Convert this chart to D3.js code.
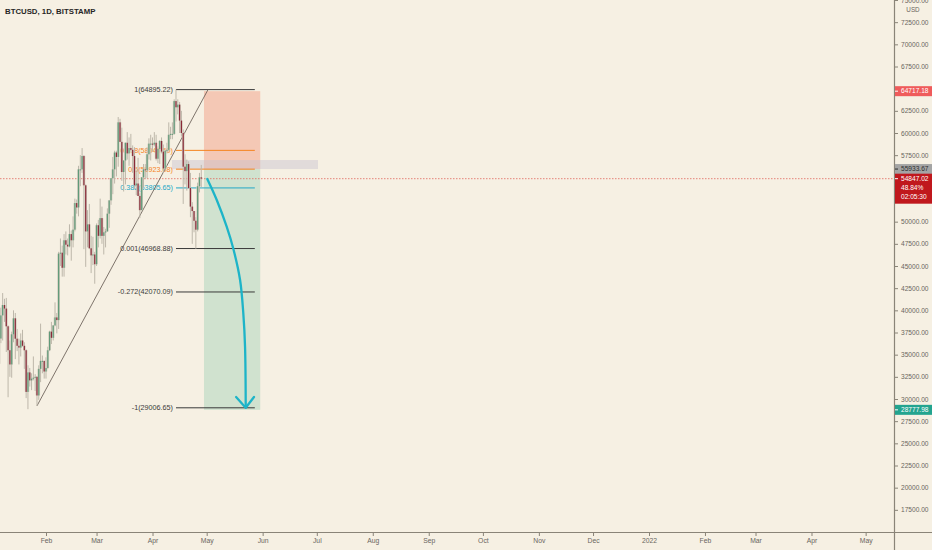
<!DOCTYPE html>
<html><head><meta charset="utf-8">
<script src="https://cdn.jsdelivr.net/npm/d3@7"></script>
<style>html,body{margin:0;padding:0;background:#f6f0e3;} svg{display:block;}</style>
</head><body><svg id="c" width="932" height="550"></svg>
<script>
// ---------- DATA ----------
const title = "BTCUSD, 1D, BITSTAMP";
const firstDay = "2021-01-05"; // consecutive daily candles from here
const opens = [
31970,33970,36820,39430,40600,40200,38200,35500,33900,37300,39100,36800,36000,35800,36600,36000,35500,30800,33000,32100,32300,32400,32500,30400,33400,34300,34300,
33100,33500,35500,37600,36900,38300,39200,38900,46400,46500,44800,47900,47400,47200,48600,47900,49100,52100,51600,55900,55900,57400,54100,48900,49700,47000,46200,46300,
45200,49600,48400,50400,48400,48800,48900,50900,52400,54900,55900,57800,57300,61200,59000,55600,56900,58900,57700,58300,58100,57400,54100,54300,52900,51300,55000,55900,55800,57600,58800,
58800,58700,58900,57100,58200,59100,57900,56000,58000,58100,59800,59900,59900,63600,62900,63200,61400,60000,56200,55700,56500,53800,51700,51200,50100,49100,54000,55000];
const highs = [
34440,36930,40300,41950,41300,41400,38300,36600,37600,40000,39700,37900,36800,37400,37800,36400,35600,33800,33500,32900,34800,32800,32600,33800,38500,34900,34300,
34700,35900,37700,38700,38300,40900,39700,46600,48100,47300,48600,48900,48100,49700,49000,50600,52600,52500,56300,57500,58300,57500,54200,51300,52000,48400,48300,46600,
49800,50200,52600,51700,49400,49200,51500,52400,54900,57300,58000,58000,61800,61600,60600,56900,58900,60100,59500,59900,58600,58400,55800,57200,53200,55000,56500,56500,58400,59400,59800,
59500,60100,59800,58500,59200,59500,58700,58100,58900,61200,60700,61200,63800,64895.22,63800,63500,62500,60400,57600,57000,56800,55500,52200,51200,50500,54400,55500,56400];
const lows = [
29900,33300,36300,36600,38700,35300,30200,32500,32400,36400,34500,35400,33900,34800,35900,33400,30100,28850,31400,31000,32100,30900,29240,29900,31900,32900,32300,
32300,33400,35400,36200,36600,38200,37400,37900,45000,43800,43800,46300,46200,47100,45600,47100,48900,50900,50600,54000,55500,46900,44900,47100,46900,44200,45100,43000,
45000,47100,48100,47500,46300,47100,48900,49300,51900,53100,54300,55100,56200,59000,54600,53400,54200,57000,56300,57900,55500,53700,53000,52900,50400,51300,53900,54800,54900,57000,56900,
57900,58500,56900,56600,56500,57700,55500,55800,57700,57900,59300,59300,59800,61300,62100,60000,59600,52000,54200,53500,53700,50500,47500,48800,46950,48900,53300,53900];
const closes = [
33970,36820,39430,40600,40200,38200,35500,33900,37300,39100,36800,36000,35800,36600,36000,35500,30800,33000,32100,32300,32400,32500,30400,33400,34300,34300,33100,
33500,35500,37600,36900,38300,39200,38900,46400,46500,44800,47900,47400,47200,48600,47900,49100,52100,51600,55900,55900,57400,54100,48900,49700,47000,46200,46300,45200,
49600,48400,50400,48400,48800,48900,50900,52400,54900,55900,57800,57300,61200,59000,55600,56900,58900,57700,58300,58100,57400,54100,54300,52900,51300,55000,55900,55800,57600,58800,58800,
58700,58900,57100,58200,59100,57900,56000,58000,58100,59800,59900,59900,63600,62900,63200,61400,60000,56200,55700,56500,53800,51700,51200,50100,49100,54000,55000,54847.02];

const monthTicks = ["2021-02-01","2021-03-01","2021-04-01","2021-05-01","2021-06-01","2021-07-01","2021-08-01","2021-09-01","2021-10-01","2021-11-01","2021-12-01","2022-01-01","2022-02-01","2022-03-01","2022-04-01","2022-05-01"];
const monthLabels = ["Feb","Mar","Apr","May","Jun","Jul","Aug","Sep","Oct","Nov","Dec","2022","Feb","Mar","Apr","May"];
const priceTicks = [75000,72500,70000,67500,62500,60000,57500,50000,47500,45000,42500,40000,37500,35000,32500,30000,27500,25000,22500,20000,17500];

const fibLevels = ["1","0.618","0.5","0.382","0.001","-0.272","-1"];
const fibPrices = [64895.22,58040.50,55923.08,53805.65,46968.88,42070.09,29006.65];
const fibSpan = ["2021-04-14T00:00Z","2021-05-27T16:00Z"];

const stopPrice = 64717.18, entryPrice = 55933.67, targetPrice = 28777.98;
const positionSpan = ["2021-04-29T12:00Z","2021-05-30T16:00Z"];
const bandSpan = ["2021-04-11T18:00Z","2021-07-01T16:00Z"];
const bandTop = 56950;
const lastPrice = 54847.02, changeText = "48.84%", countdown = "02:05:30";

const trendDates = ["2021-01-27T00:00Z","2021-05-01T18:00Z"];
const trendPrices = [29223, 64895.22];

const arrowDates = ["2021-05-01T08:00Z","2021-05-06T14:00Z","2021-05-12T02:00Z","2021-05-15T19:00Z","2021-05-19T12:00Z","2021-05-21T07:00Z","2021-05-22T06:00Z","2021-05-22T15:00Z"];
const arrowPrices = [54813,52444,49433,46918,43422,39666,35899,29020];
const headDates = ["2021-05-17T07:00Z","2021-05-22T15:00Z","2021-05-27T05:00Z"];
const headPrices = [30226,29020,30226];

// ---------- SETUP ----------
const W = 932, H = 550, plotR = 895, plotB = 532;
const FONT = "'Liberation Sans', Arial, sans-serif";
const svg = d3.select("#c");
svg.append("rect").attr("width",W).attr("height",H).attr("fill","#f6f0e3");

const x = d3.scaleUtc().domain([new Date("2021-02-01T00:00Z"), new Date("2022-01-01T00:00Z")]).range([46,649]);
const y = d3.scaleLinear().domain([15000,75000]).range([plotB,0]);
const D = s => new Date(s);

const day0 = new Date(firstDay+"T00:00Z");
const candles = closes.map((c,i)=>({date:d3.utcDay.offset(day0,i), o:opens[i], h:highs[i], l:lows[i], c}));

svg.append("clipPath").attr("id","clip").append("rect").attr("x",0).attr("y",0).attr("width",plotR).attr("height",plotB);
const plot = svg.append("g").attr("clip-path","url(#clip)");

// position boxes
const px0 = x(D(positionSpan[0])), px1 = x(D(positionSpan[1]));
plot.append("rect").attr("x",px0).attr("width",px1-px0).attr("y",y(stopPrice)).attr("height",y(entryPrice)-y(stopPrice)).attr("fill","#f4c8b5");
plot.append("rect").attr("x",px0).attr("width",px1-px0).attr("y",y(entryPrice)).attr("height",y(targetPrice)-y(entryPrice)).attr("fill","#d0e2cf");
const bx0 = x(D(bandSpan[0])), bx1 = x(D(bandSpan[1]));
plot.append("rect").attr("x",bx0).attr("width",bx1-bx0).attr("y",y(bandTop)).attr("height",y(entryPrice)-y(bandTop)).attr("fill","rgba(200,194,206,0.45)");

// current price dotted line
plot.append("line").attr("x1",0).attr("x2",plotR).attr("y1",y(lastPrice)).attr("y2",y(lastPrice))
  .attr("stroke","#e0665c").attr("stroke-width",0.8).attr("stroke-dasharray","1.5,1.5");

// fib
const fibColor = ["#3a3a3a","#f5841f","#f5841f","#22a7c6","#3a3a3a","#3a3a3a","#3a3a3a"];
const fx0 = x(D(fibSpan[0])), fx1 = x(D(fibSpan[1]));
const fg = plot.append("g");
fibPrices.forEach((p,i)=>{
  fg.append("line").attr("x1",fx0).attr("x2",fx1).attr("y1",y(p)).attr("y2",y(p)).attr("stroke",fibColor[i]).attr("stroke-width",1);
  fg.append("text").attr("x",fx0-3).attr("y",y(p)).attr("dy","0.35em").attr("text-anchor","end")
    .attr("font-family",FONT).attr("font-size",7.2).attr("fill",fibColor[i]).text(fibLevels[i]+"("+p.toFixed(2)+")");
});

// trendline
plot.append("line").attr("x1",x(D(trendDates[0]))).attr("y1",y(trendPrices[0])).attr("x2",x(D(trendDates[1]))).attr("y2",y(trendPrices[1]))
  .attr("stroke","#5e534b").attr("stroke-width",0.8);

// candles
const cg = plot.append("g");
cg.selectAll("line.w").data(candles).join("line").attr("class","w")
  .attr("x1",d=>x(d.date)).attr("x2",d=>x(d.date)).attr("y1",d=>y(d.h)).attr("y2",d=>y(d.l))
  .attr("stroke","#bdb7aa").attr("stroke-width",1);
cg.selectAll("rect.bo").data(candles).join("rect").attr("class","bo")
  .attr("x",d=>x(d.date)-1.3).attr("width",2.6)
  .attr("y",d=>y(Math.max(d.o,d.c))).attr("height",d=>Math.max(1,Math.abs(y(d.o)-y(d.c))))
  .attr("fill","#cfc9bc");
cg.selectAll("rect.b").data(candles).join("rect").attr("class","b")
  .attr("x",d=>x(d.date)-0.6).attr("width",1.2)
  .attr("y",d=>y(Math.max(d.o,d.c))).attr("height",d=>Math.max(1,Math.abs(y(d.o)-y(d.c))))
  .attr("fill",d=>d.c>=d.o?"#5f9a78":"#8a2a38");

// arrow
const apts = arrowDates.map((d,i)=>[x(D(d)), y(arrowPrices[i])]);
plot.append("path").attr("d",d3.line().curve(d3.curveCatmullRom)(apts)).attr("fill","none")
  .attr("stroke","#1db4c8").attr("stroke-width",2.3).attr("stroke-linecap","round");
const hpts = headDates.map((d,i)=>[x(D(d)), y(headPrices[i])]);
plot.append("path").attr("d",d3.line()(hpts)).attr("fill","none").attr("stroke","#1db4c8").attr("stroke-width",2.3)
  .attr("stroke-linecap","round").attr("stroke-linejoin","round");

// title
svg.append("text").attr("x",5).attr("y",14).attr("font-family",FONT).attr("font-weight","bold").attr("font-size",7.8).attr("fill","#262626").text(title);

// ---------- AXES ----------
svg.append("line").attr("x1",0).attr("x2",W).attr("y1",plotB+0.5).attr("y2",plotB+0.5).attr("stroke","#8a8478").attr("stroke-width",1.2);
svg.append("line").attr("x1",plotR-0.5).attr("x2",plotR-0.5).attr("y1",0).attr("y2",H).attr("stroke","#8a8478").attr("stroke-width",1.2);

const xa = svg.append("g").attr("transform",`translate(0,${plotB+1})`)
  .call(d3.axisBottom(x).tickValues(monthTicks.map(D)).tickFormat((d,i)=>monthLabels[i]).tickSize(3).tickPadding(2));
xa.select(".domain").remove();
xa.selectAll("line").attr("stroke","#8a8478");
xa.selectAll("text").attr("font-family",FONT).attr("font-size",6.8).attr("fill","#6a665e");

const ya = svg.append("g").attr("transform",`translate(${plotR},0)`)
  .call(d3.axisRight(y).tickValues(priceTicks).tickFormat(d3.format(".2f")).tickSize(3).tickPadding(3));
ya.select(".domain").remove();
ya.selectAll("line").attr("stroke","#8a8478");
ya.selectAll("text").attr("font-family",FONT).attr("font-size",6.6).attr("fill","#6a665e");
svg.append("text").attr("x",913).attr("y",10).attr("dy","0.35em").attr("text-anchor","middle").attr("font-family",FONT).attr("font-size",6.3).attr("fill","#6a665e").text("USD");

function box(price, lines, fill, tcol){
  const h = 10*lines.length;
  const top = y(price)-5;
  svg.append("rect").attr("x",plotR).attr("y",top).attr("width",W-plotR).attr("height",h).attr("fill",fill);
  svg.append("line").attr("x1",plotR).attr("x2",plotR+3).attr("y1",y(price)).attr("y2",y(price)).attr("stroke",tcol);
  lines.forEach((t,i)=>svg.append("text").attr("x",plotR+6).attr("y",top+5+i*9).attr("dy","0.35em")
    .attr("font-family",FONT).attr("font-size",6.6).attr("fill",tcol).text(t));
}
box(stopPrice,[stopPrice.toFixed(2)],"#ef5b5b","#ffffff");
box(entryPrice,[entryPrice.toFixed(2)],"#a4a4a4","#2e2e2e");
box(lastPrice,[lastPrice.toFixed(2),changeText,countdown],"#c0181d","#ffffff");
box(targetPrice,[targetPrice.toFixed(2)],"#23a48f","#ffffff");
</script></body></html>
